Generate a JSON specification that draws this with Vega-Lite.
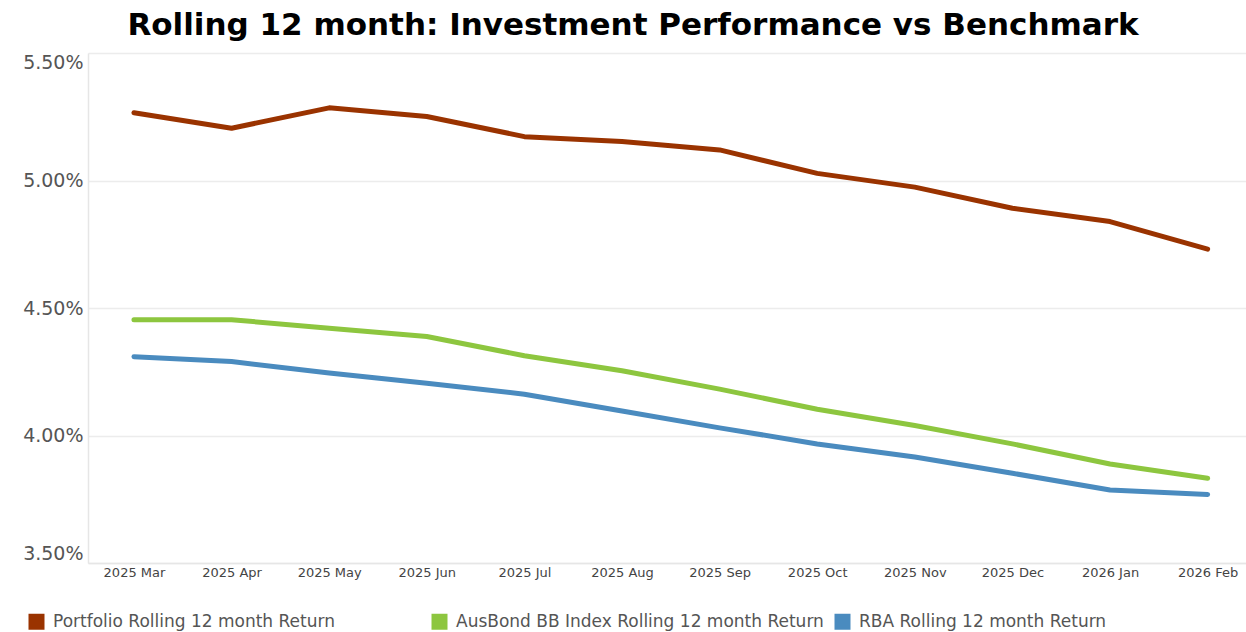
{
  "$schema": "https://vega.github.io/schema/vega-lite/v6.json",
  "width": 1158,
  "height": 510,
  "autosize": {"type": "none"},
  "padding": {"left": 88, "top": 53, "right": 0, "bottom": 69},
  "background": "white",
  "title": {
    "text": "Rolling 12 month: Investment Performance vs Benchmark",
    "font": "DejaVu Sans",
    "fontWeight": "bold",
    "fontSize": 31,
    "color": "#000000",
    "anchor": "middle",
    "baseline": "alphabetic",
    "offset": 16,
    "dx": -34,
    "dy": 29
  },
  "data": {
    "values": [
      {"month": "2025 Mar", "series": "Portfolio Rolling 12 month Return", "value": 5.266},
      {"month": "2025 Apr", "series": "Portfolio Rolling 12 month Return", "value": 5.205},
      {"month": "2025 May", "series": "Portfolio Rolling 12 month Return", "value": 5.285},
      {"month": "2025 Jun", "series": "Portfolio Rolling 12 month Return", "value": 5.251},
      {"month": "2025 Jul", "series": "Portfolio Rolling 12 month Return", "value": 5.172},
      {"month": "2025 Aug", "series": "Portfolio Rolling 12 month Return", "value": 5.153},
      {"month": "2025 Sep", "series": "Portfolio Rolling 12 month Return", "value": 5.120},
      {"month": "2025 Oct", "series": "Portfolio Rolling 12 month Return", "value": 5.028},
      {"month": "2025 Nov", "series": "Portfolio Rolling 12 month Return", "value": 4.974},
      {"month": "2025 Dec", "series": "Portfolio Rolling 12 month Return", "value": 4.891},
      {"month": "2026 Jan", "series": "Portfolio Rolling 12 month Return", "value": 4.839},
      {"month": "2026 Feb", "series": "Portfolio Rolling 12 month Return", "value": 4.731},
      {"month": "2025 Mar", "series": "AusBond BB Index Rolling 12 month Return", "value": 4.454},
      {"month": "2025 Apr", "series": "AusBond BB Index Rolling 12 month Return", "value": 4.454},
      {"month": "2025 May", "series": "AusBond BB Index Rolling 12 month Return", "value": 4.421},
      {"month": "2025 Jun", "series": "AusBond BB Index Rolling 12 month Return", "value": 4.388},
      {"month": "2025 Jul", "series": "AusBond BB Index Rolling 12 month Return", "value": 4.313},
      {"month": "2025 Aug", "series": "AusBond BB Index Rolling 12 month Return", "value": 4.254},
      {"month": "2025 Sep", "series": "AusBond BB Index Rolling 12 month Return", "value": 4.182},
      {"month": "2025 Oct", "series": "AusBond BB Index Rolling 12 month Return", "value": 4.103},
      {"month": "2025 Nov", "series": "AusBond BB Index Rolling 12 month Return", "value": 4.039},
      {"month": "2025 Dec", "series": "AusBond BB Index Rolling 12 month Return", "value": 3.967},
      {"month": "2026 Jan", "series": "AusBond BB Index Rolling 12 month Return", "value": 3.888},
      {"month": "2026 Feb", "series": "AusBond BB Index Rolling 12 month Return", "value": 3.832},
      {"month": "2025 Mar", "series": "RBA Rolling 12 month Return", "value": 4.309},
      {"month": "2025 Apr", "series": "RBA Rolling 12 month Return", "value": 4.290},
      {"month": "2025 May", "series": "RBA Rolling 12 month Return", "value": 4.245},
      {"month": "2025 Jun", "series": "RBA Rolling 12 month Return", "value": 4.205},
      {"month": "2025 Jul", "series": "RBA Rolling 12 month Return", "value": 4.162},
      {"month": "2025 Aug", "series": "RBA Rolling 12 month Return", "value": 4.096},
      {"month": "2025 Sep", "series": "RBA Rolling 12 month Return", "value": 4.030},
      {"month": "2025 Oct", "series": "RBA Rolling 12 month Return", "value": 3.967},
      {"month": "2025 Nov", "series": "RBA Rolling 12 month Return", "value": 3.916},
      {"month": "2025 Dec", "series": "RBA Rolling 12 month Return", "value": 3.852},
      {"month": "2026 Jan", "series": "RBA Rolling 12 month Return", "value": 3.786},
      {"month": "2026 Feb", "series": "RBA Rolling 12 month Return", "value": 3.769}
    ]
  },
  "mark": {"type": "line", "strokeWidth": 5, "strokeCap": "round", "strokeJoin": "round"},
  "encoding": {
    "x": {
      "field": "month",
      "type": "ordinal",
      "sort": null,
      "scale": {"type": "point", "padding": 0.432, "align": 0.545},
      "axis": {
        "title": null,
        "labelAngle": 0,
        "labelFont": "DejaVu Sans",
        "labelFontSize": 13,
        "labelColor": "#444444",
        "labelPadding": 3,
        "ticks": false,
        "grid": false,
        "domainColor": "#e6e6e6",
        "domainWidth": 1.5
      }
    },
    "y": {
      "field": "value",
      "type": "quantitative",
      "scale": {"domain": [3.5, 5.5], "nice": false, "zero": false},
      "axis": {
        "title": null,
        "values": [3.5, 4, 4.5, 5, 5.5],
        "labelExpr": "format(datum.value, '.2f') + '%'",
        "labelFont": "DejaVu Sans",
        "labelFontSize": 19,
        "labelColor": "#555555",
        "labelPadding": 5,
        "labelFlush": true,
        "ticks": false,
        "grid": true,
        "gridColor": "#ececec",
        "gridWidth": 1.5,
        "domainColor": "#e6e6e6",
        "domainWidth": 1.5
      }
    },
    "color": {
      "field": "series",
      "type": "nominal",
      "sort": null,
      "scale": {
        "domain": ["Portfolio Rolling 12 month Return", "AusBond BB Index Rolling 12 month Return", "RBA Rolling 12 month Return"],
        "range": ["#9a3300", "#8dc63f", "#4a8bbf"]
      },
      "legend": {
        "title": null,
        "orient": "none",
        "legendX": -60,
        "legendY": 560,
        "direction": "horizontal",
        "columns": 3,
        "gridAlign": "all",
        "columnPadding": 10,
        "symbolType": "square",
        "symbolSize": 256,
        "symbolOffset": 0,
        "labelFont": "DejaVu Sans",
        "labelFontSize": 17,
        "labelColor": "#555555",
        "labelOffset": 8,
        "labelLimit": 0,
        "encode": {
          "symbols": {
            "update": {
              "fill": {"scale": "color", "field": "value"},
              "fillOpacity": {"value": 1},
              "strokeWidth": {"value": 0}
            }
          }
        }
      }
    }
  },
  "config": {"view": {"stroke": null}}
}
